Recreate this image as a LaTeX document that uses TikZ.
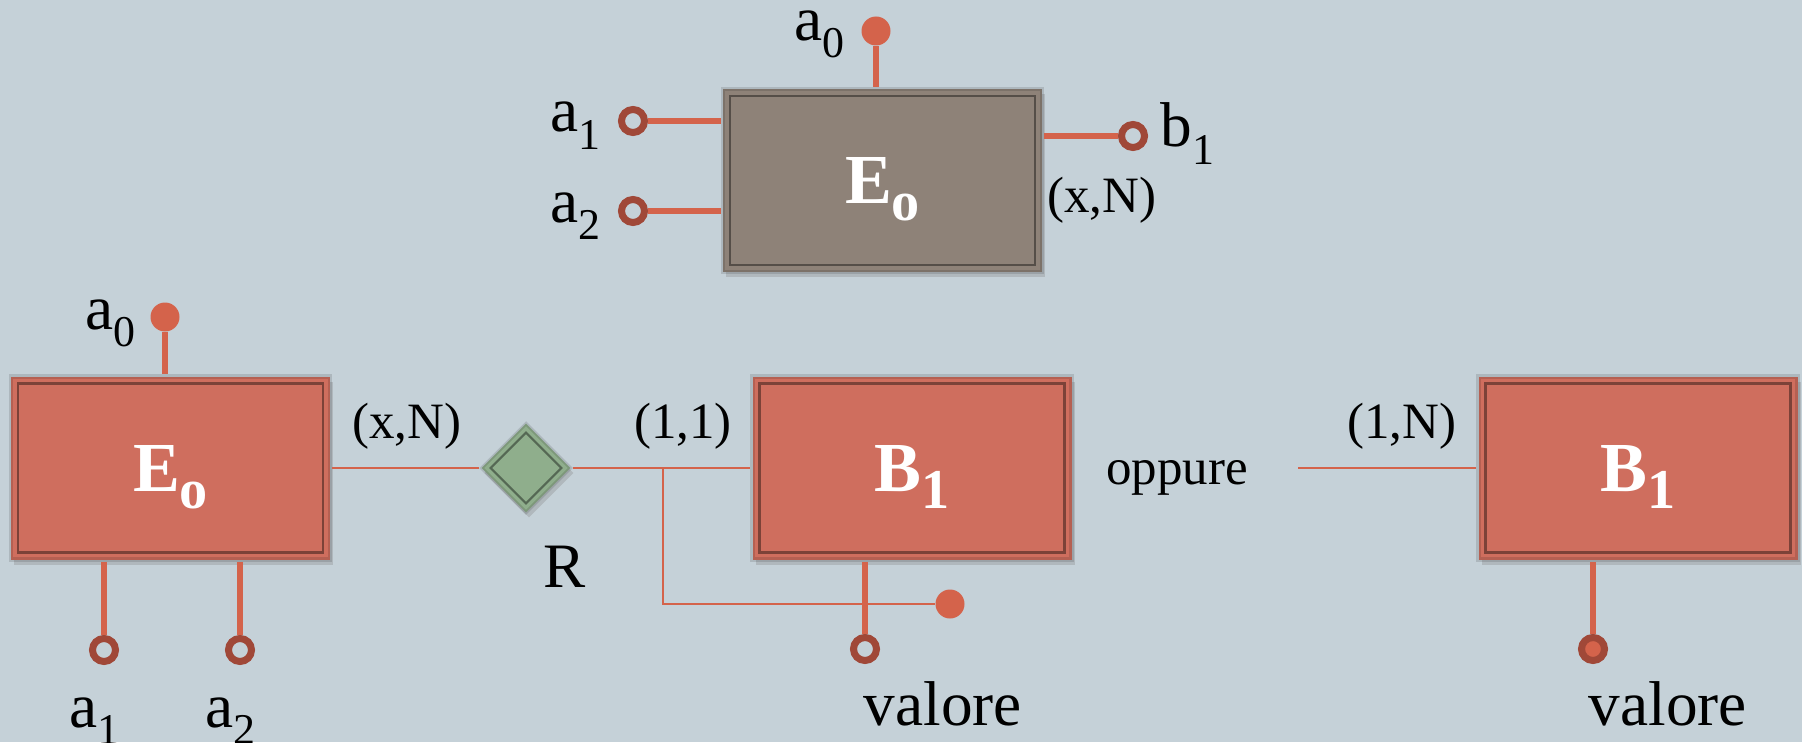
\documentclass[tikz,border=0pt]{standalone}
\usepackage{fontspec}
\setmainfont{Liberation Serif}
\usetikzlibrary{shapes.geometric,shadows}
\definecolor{bgc}{RGB}{197,209,216}
\definecolor{coral}{RGB}{207,110,94}
\definecolor{mud}{RGB}{142,130,120}
\definecolor{sage}{RGB}{143,174,140}
\definecolor{wire}{RGB}{212,99,75}
\definecolor{rim}{RGB}{160,72,56}
\newcommand\entname[2]{\fontsize{20}{22}\selectfont\bfseries #1\raisebox{-0.17cm}{\fontsize{16}{16}\selectfont #2}}
\newcommand\attname[2]{#1\raisebox{-0.17cm}{\fontsize{12.5}{13}\selectfont #2}}
\begin{document}
\begin{tikzpicture}[x=1cm, y=1cm,
  ent/.style={rectangle, fill=coral, draw=black, draw opacity=0.12, line width=1.2pt,
    minimum width=3.19cm, minimum height=1.83cm, text=white, text depth=0pt,
    drop shadow={opacity=0.3, shadow xshift=0.03cm, shadow yshift=-0.05cm},
    path picture={\draw[black, opacity=0.4, line width=0.6pt]
      ([shift={(0.07,-0.07)}]path picture bounding box.north west) rectangle
      ([shift={(-0.07,0.07)}]path picture bounding box.south east);}},
  relshape/.style={diamond, fill=sage, draw=black, draw opacity=0.12, line width=1pt,
    minimum width=0.9cm, minimum height=0.9cm, inner sep=0pt,
    drop shadow={opacity=0.3, shadow xshift=0.03cm, shadow yshift=-0.05cm},
    path picture={\draw[black, opacity=0.4, line width=0.6pt]
      ([yshift=-0.09cm]path picture bounding box.north) -- ([xshift=-0.09cm]path picture bounding box.east) --
      ([yshift=0.09cm]path picture bounding box.south) -- ([xshift=0.09cm]path picture bounding box.west) -- cycle;}},
  attopen/.style={circle, draw=rim, line width=2pt, fill=bgc, inner sep=0pt, minimum size=0.23cm},
  attfull/.style={attopen, fill=wire},
  iddot/.style={circle, fill=wire, inner sep=0pt, minimum size=0.29cm},
  attline/.style={draw=wire, line width=1.8pt},
  relline/.style={draw=wire, line width=0.6pt},
  lbl/.style={font=\fontsize{18}{20}\selectfont, inner sep=0pt},
  card/.style={font=\fontsize{14.5}{16}\selectfont, inner sep=0pt}]
\fill[bgc] (0,0) rectangle (18.02,-7.42);
\useasboundingbox (0,0) rectangle (18.02,-7.42);
\node[ent, fill=mud] (etop) at (8.825,-1.805) {\entname{E}{o}};
\node[ent] (eleft) at (1.705,-4.68) {\entname{E}{o}};
\node[ent] (bmid) at (9.12,-4.68) {\entname{B}{1}};
\node[ent] (bright) at (16.38,-4.68) {\entname{B}{1}};
\node[relshape] (rel) at (5.26,-4.68) {};
\node[iddot] (ta0) at (8.76,-0.31) {};
\node[attopen] (ta1) at (6.33,-1.21) {};
\node[attopen] (ta2) at (6.33,-2.11) {};
\node[attopen] (tb1) at (11.33,-1.36) {};
\node[lbl, anchor=base east] (ta0l) at (8.45,-0.41) {\attname{a}{0}};
\node[lbl, anchor=base east] (ta1l) at (6.01,-1.32) {\attname{a}{1}};
\node[lbl, anchor=base east] (ta2l) at (6.01,-2.22) {\attname{a}{2}};
\node[lbl, anchor=base west] (tb1l) at (11.60,-1.47) {\attname{b}{1}};
\node[card] (tcard) at (11.02,-2.00) {(x,N)};
\node[iddot] (la0) at (1.65,-3.17) {};
\node[attopen] (la1) at (1.04,-6.50) {};
\node[attopen] (la2) at (2.40,-6.50) {};
\node[lbl, anchor=base east] (la0l) at (1.36,-3.29) {\attname{a}{0}};
\node[lbl, anchor=base west] (la1l) at (0.69,-7.27) {\attname{a}{1}};
\node[lbl, anchor=base west] (la2l) at (2.05,-7.27) {\attname{a}{2}};
\node[card] (lcard) at (4.07,-4.26) {(x,N)};
\node[lbl, anchor=base] (rname) at (5.65,-5.87) {R};
\node[card] (mcard) at (6.83,-4.26) {(1,1)};
\coordinate (br) at (6.63,-4.68);
\node[iddot] (kdot) at (9.50,-6.04) {};
\node[attopen] (vmid) at (8.65,-6.49) {};
\node[lbl, anchor=base west] (vmidl) at (8.63,-7.25) {valore};
\node[card, anchor=base] (alt) at (11.77,-4.84) {oppure};
\coordinate (rfree) at (12.98,-4.68);
\node[card] (rcard) at (14.02,-4.26) {(1,N)};
\node[attfull] (vright) at (15.93,-6.49) {};
\node[lbl, anchor=base west] (vrightl) at (15.88,-7.25) {valore};
\draw[attline] (ta0) -- (ta0 |- etop.north);
\draw[attline] (ta1) -- (ta1 -| etop.west);
\draw[attline] (ta2) -- (ta2 -| etop.west);
\draw[attline] (tb1) -- (tb1 -| etop.east);
\draw[attline] (la0) -- (la0 |- eleft.north);
\draw[attline] (la1) -- (la1 |- eleft.south);
\draw[attline] (la2) -- (la2 |- eleft.south);
\draw[relline] (eleft) -- (rel) -- (bmid);
\draw[relline] (br) |- (kdot);
\draw[attline] (vmid) -- (vmid |- bmid.south);
\draw[relline] (rfree) -- (bright);
\draw[attline] (vright) -- (vright |- bright.south);
\end{tikzpicture}
\end{document}
